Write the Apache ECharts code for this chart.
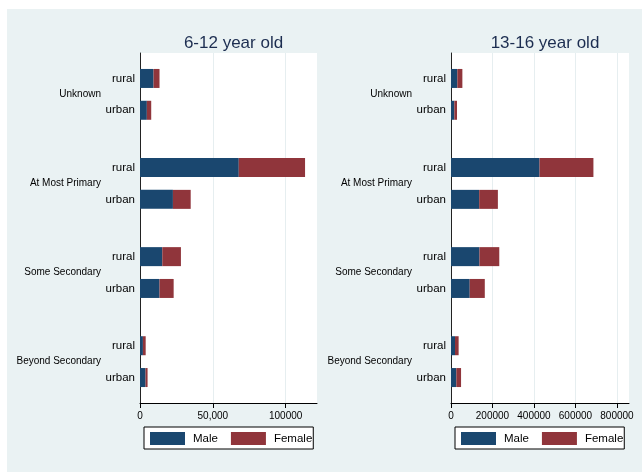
<!DOCTYPE html>
<html>
<head>
<meta charset="utf-8">
<script src="https://cdn.jsdelivr.net/npm/echarts@6/dist/echarts.min.js"></script>
<style>html,body{margin:0;padding:0;background:#fff}#c{width:642px;height:472px}</style>
</head>
<body>
<div id="c"></div>
<script>
// ---- data ----
const groups = ['Unknown', 'At Most Primary', 'Some Secondary', 'Beyond Secondary'];
const areas = ['rural', 'urban'];
const titles = ['6-12 year old', '13-16 year old'];
const seriesNames = ['Male', 'Female'];
// order: Unknown rural, Unknown urban, At Most Primary rural, urban, Some Secondary rural, urban, Beyond Secondary rural, urban
const male612 = [9300, 4700, 67800, 22600, 15300, 13400, 2000, 3800];
const female612 = [4100, 3000, 45500, 12200, 12800, 9700, 1900, 1400];
const male1316 = [30500, 16000, 426700, 135800, 137200, 90200, 19400, 25700];
const female1316 = [24300, 13000, 259800, 90200, 95500, 72700, 17400, 22800];
const ticks612 = [0, 50000, 100000];
const tickLabels612 = ['0', '50,000', '100000'];
const ticks1316 = [0, 200000, 400000, 600000, 800000];
const tickLabels1316 = ['0', '200000', '400000', '600000', '800000'];

// ---- layout of category slots ----
const SLOTS = 111;
const rowIdx = (g, a) => 8 + 28 * g + 10 * a;
const grpIdx = g => 13 + 28 * g;
const catData = Array.from({length: SLOTS}, (_, i) => 'c' + i);
const labelText = Array(SLOTS).fill('');
groups.forEach((gname, g) => {
  areas.forEach((an, a) => { labelText[rowIdx(g, a)] = an; });
  labelText[grpIdx(g)] = '{g|' + gname + '}';
});
function fill(vals) {
  const out = Array(SLOTS).fill(null);
  groups.forEach((_, g) => areas.forEach((_, a) => { out[rowIdx(g, a)] = vals[g * 2 + a]; }));
  return out;
}

const FONT = 'Liberation Sans, Arial, sans-serif';
const MALE_C = '#1a476f', FEMALE_C = '#90353b';

function yAxis(gi) {
  return {
    type: 'category', gridIndex: gi, data: catData, inverse: true, boundaryGap: false,
    axisLine: {show: true, lineStyle: {color: '#222', width: 1}},
    axisTick: {show: false},
    splitLine: {show: false},
    axisLabel: {
      interval: 0, margin: 5, fontFamily: FONT, fontSize: 11.5, color: '#000',
      formatter: (v, i) => labelText[i],
      rich: {g: {fontFamily: FONT, fontSize: 10, color: '#000', padding: [0, 34, 0, 0]}}
    }
  };
}
function xAxis(gi, max, interval, ticks, labels) {
  return {
    type: 'value', gridIndex: gi, min: 0, max: max, interval: interval,
    axisLine: {show: true, onZero: false, lineStyle: {color: '#000', width: 1}},
    axisTick: {show: true, length: 5, customValues: ticks, lineStyle: {color: '#000'}},
    axisLabel: {
      customValues: ticks, margin: 8, fontFamily: FONT, fontSize: 10, color: '#000',
      formatter: v => { const k = ticks.indexOf(v); return k >= 0 ? labels[k] : ''; }
    },
    splitLine: {show: true, lineStyle: {color: '#e6eef0', width: 1}}
  };
}
function legend(left) {
  return {
    data: seriesNames, left: left, top: 427, orient: 'horizontal',
    itemWidth: 35, itemHeight: 13, itemGap: 13,
    padding: [5, 1, 4, 6], borderColor: '#000', borderWidth: 1, borderRadius: 0,
    backgroundColor: '#fff', icon: 'rect',
    textStyle: {fontFamily: FONT, fontSize: 11.5, color: '#000', padding: [0, 0, 0, 3]}
  };
}

const chart = echarts.init(document.getElementById('c'), null, {renderer: 'canvas'});
chart.setOption({
  backgroundColor: '#eaf2f3',
  animation: false,
  graphic: [
    {type: 'rect', shape: {x: 0, y: 0, width: 642, height: 9}, style: {fill: '#fff'}, silent: true},
    {type: 'rect', shape: {x: 0, y: 0, width: 7, height: 472}, style: {fill: '#fff'}, silent: true}
  ],
  title: [
    {text: titles[0], left: 228.5, top: 30, textAlign: 'center',
     textStyle: {fontFamily: FONT, fontSize: 17, fontWeight: 'normal', color: '#1c2d50'}},
    {text: titles[1], left: 540, top: 30, textAlign: 'center',
     textStyle: {fontFamily: FONT, fontSize: 17, fontWeight: 'normal', color: '#1c2d50'}}
  ],
  legend: [legend(144), legend(455)],
  grid: [
    {left: 140, top: 53, width: 177, height: 350, show: true, backgroundColor: '#fff', borderWidth: 0, containLabel: false},
    {left: 451, top: 53, width: 178, height: 350, show: true, backgroundColor: '#fff', borderWidth: 0, containLabel: false}
  ],
  xAxis: [
    xAxis(0, 121500, 50000, ticks612, tickLabels612),
    xAxis(1, 858000, 200000, ticks1316, tickLabels1316)
  ],
  yAxis: [yAxis(0), yAxis(1)],
  series: [
    {name: seriesNames[0], type: 'bar', xAxisIndex: 0, yAxisIndex: 0, stack: 'a', barWidth: 19, data: fill(male612), itemStyle: {color: MALE_C}},
    {name: seriesNames[1], type: 'bar', xAxisIndex: 0, yAxisIndex: 0, stack: 'a', barWidth: 19, data: fill(female612), itemStyle: {color: FEMALE_C}},
    {name: seriesNames[0], type: 'bar', xAxisIndex: 1, yAxisIndex: 1, stack: 'b', barWidth: 19, data: fill(male1316), itemStyle: {color: MALE_C}},
    {name: seriesNames[1], type: 'bar', xAxisIndex: 1, yAxisIndex: 1, stack: 'b', barWidth: 19, data: fill(female1316), itemStyle: {color: FEMALE_C}}
  ]
});
</script>
</body>
</html>
